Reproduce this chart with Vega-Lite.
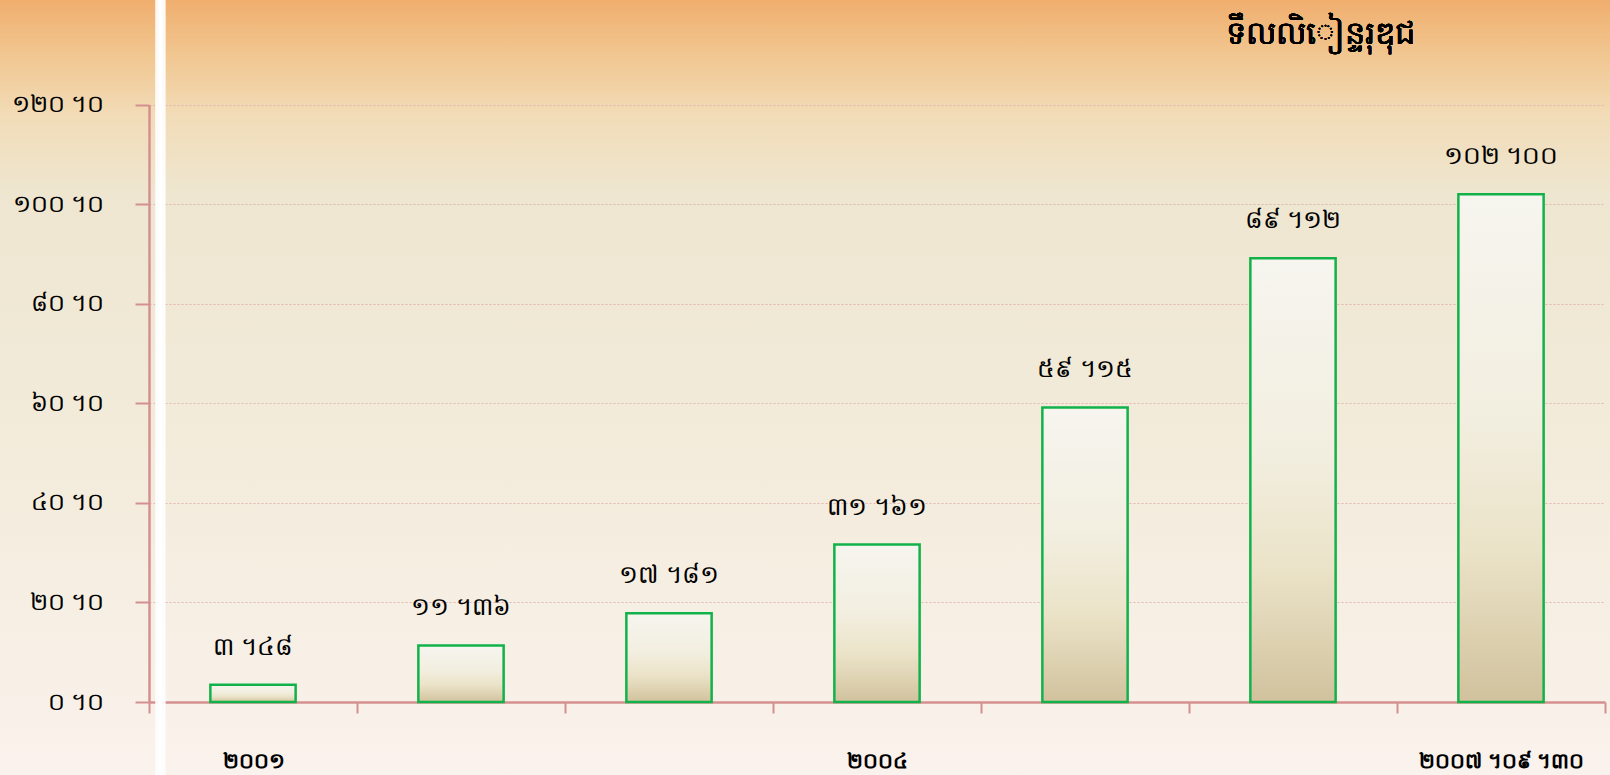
{
  "$schema": "https://vega.github.io/schema/vega-lite/v6.json",
  "width": 1610,
  "height": 775,
  "autosize": "none",
  "padding": 0,
  "background": "#f6ecdf",
  "view": {
    "stroke": null,
    "fill": {
      "gradient": "linear",
      "x1": 0, "y1": 0, "x2": 0, "y2": 1,
      "stops": [
        {"offset": 0, "color": "#f0ae6e"},
        {"offset": 0.07, "color": "#f1c690"},
        {"offset": 0.15, "color": "#f2dcb8"},
        {"offset": 0.25, "color": "#eee6d0"},
        {"offset": 0.6, "color": "#f3ecdc"},
        {"offset": 1, "color": "#faf2ec"}
      ]
    }
  },
  "data": {
    "values": [
      {"year": "២០០១", "value": 3.48, "label": "៣ ។៤៨"},
      {"year": "២០០២", "value": 11.36, "label": "១១ ។៣៦"},
      {"year": "២០០៣", "value": 17.81, "label": "១៧ ។៨១"},
      {"year": "២០០៤", "value": 31.61, "label": "៣១ ។៦១"},
      {"year": "២០០៥", "value": 59.15, "label": "៥៩ ។១៥"},
      {"year": "២០០៦", "value": 89.12, "label": "៨៩ ។១២"},
      {"year": "២០០៧ ។០៩ ។៣០", "value": 102.0, "label": "១០២ ។០០"}
    ]
  },
  "encoding": {
    "x": {
      "field": "year",
      "type": "ordinal",
      "sort": null,
      "scale": {"type": "band", "range": [149, 1605], "paddingInner": 0, "paddingOuter": 0},
      "axis": {
        "title": null,
        "orient": "bottom",
        "offset": -73,
        "tickBand": "extent",
        "domainColor": "#d49090",
        "domainWidth": 2.5,
        "tickColor": "#d49090",
        "tickWidth": 2,
        "tickSize": 11,
        "labelAngle": 0,
        "labelFontSize": 21,
        "labelFontWeight": "bold",
        "labelColor": "#000000",
        "labelPadding": 37,
        "labelLimit": 0,
        "labelOverlap": false,
        "labelExpr": "(datum.value == '២០០១' || datum.value == '២០០៤' || datum.value == '២០០៧ ។០៩ ។៣០') ? datum.value : ''",
        "grid": false
      }
    },
    "y": {
      "field": "value",
      "type": "quantitative",
      "scale": {"domain": [0, 120], "range": [702, 104.5], "nice": false, "zero": false},
      "axis": {
        "title": null,
        "orient": "left",
        "offset": -149,
        "values": [0, 20, 40, 60, 80, 100, 120],
        "domainColor": "#d49090",
        "domainWidth": 2.5,
        "tickColor": "#d49090",
        "tickWidth": 2,
        "tickSize": 14,
        "labelFontSize": 24,
        "labelColor": "#000000",
        "labelPadding": 31,
        "labelExpr": "datum.value == 0 ? '០ ។០' : datum.value == 20 ? '២០ ។០' : datum.value == 40 ? '៤០ ។០' : datum.value == 60 ? '៦០ ។០' : datum.value == 80 ? '៨០ ។០' : datum.value == 100 ? '១០០ ។០' : '១២០ ។០'",
        "grid": true,
        "gridColor": "#e3b5b0",
        "gridWidth": 1,
        "gridDash": [2, 2]
      }
    }
  },
  "layer": [
    {
      "mark": {"type": "rule", "color": "#ffffff", "strokeWidth": 10, "opacity": 0.3},
      "encoding": {
        "x": {"datum": "២០០១", "bandPosition": 0.055},
        "y": {"datum": 141},
        "y2": {"datum": -15}
      }
    },
    {
      "mark": {"type": "rule", "color": "#ffffff", "strokeWidth": 3.5, "opacity": 0.6},
      "encoding": {
        "x": {"datum": "២០០១", "bandPosition": 0.055},
        "y": {"datum": 141},
        "y2": {"datum": -15}
      }
    },
    {
      "mark": {
        "type": "bar",
        "width": {"band": 0.41},
        "stroke": "#12b24a",
        "strokeWidth": 2.5,
        "fill": {
          "gradient": "linear",
          "x1": 0, "y1": 0, "x2": 0, "y2": 1,
          "stops": [
            {"offset": 0, "color": "#f6f5ef"},
            {"offset": 0.45, "color": "#f2eedf"},
            {"offset": 0.7, "color": "#ebe3c8"},
            {"offset": 1, "color": "#d1c29d"}
          ]
        }
      }
    },
    {
      "mark": {"type": "text", "dy": -38, "fontSize": 25, "color": "#000000"},
      "encoding": {"text": {"field": "label"}}
    },
    {
      "mark": {"type": "text", "fontSize": 32, "color": "#000000", "dx": 27, "baseline": "middle"},
      "encoding": {
        "x": {"datum": "២០០៦"},
        "y": {"datum": 134.2},
        "text": {"value": "ទឹលលិៀន្ទរុឌុជ"}
      }
    }
  ]
}
